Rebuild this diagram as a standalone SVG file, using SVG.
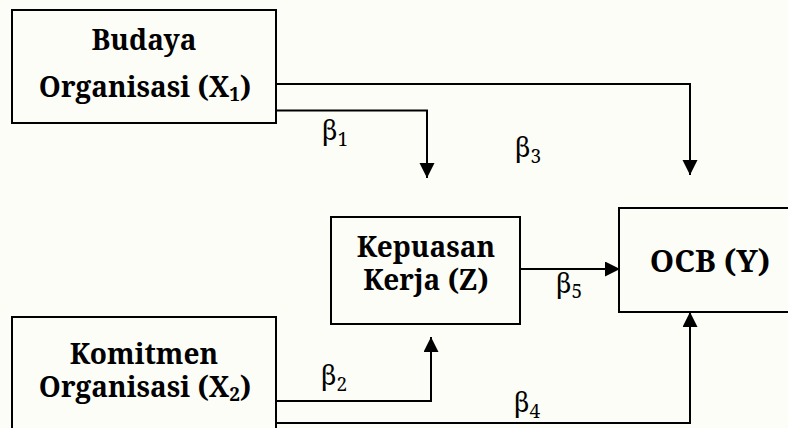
<svg xmlns="http://www.w3.org/2000/svg" width="788" height="428" viewBox="0 0 788 428">
  <defs>
    <marker id="arrow" markerUnits="userSpaceOnUse" markerWidth="16" markerHeight="16" refX="15" refY="7.5" orient="auto">
      <path d="M0,0 L15,7.5 L0,15 Z" fill="#000"/>
    </marker>
    <style>
      text { font-family: "Noto Serif", "DejaVu Serif", serif; fill: #000; }
      .box { fill: none; stroke: #000; stroke-width: 2; }
      .lbl { font-weight: bold; font-size: 28px; text-anchor: middle; }
      .sub { font-size: 19px; }
      .beta { font-size: 27px; }
      .conn { fill: none; stroke: #000; stroke-width: 2; marker-end: url(#arrow); }
    </style>
  </defs>
  <rect width="788" height="428" fill="#fcfdf7"/>

  <g id="budaya">
    <rect class="box" x="12" y="10" width="264" height="113"/>
    <text class="lbl" x="144" y="50">Budaya</text>
    <text class="lbl" x="145" y="97">Organisasi (X<tspan class="sub" dy="4">1</tspan><tspan dy="-4">)</tspan></text>
  </g>

  <g id="komitmen">
    <rect class="box" x="12" y="317" width="264" height="130"/>
    <text class="lbl" x="144" y="364">Komitmen</text>
    <text class="lbl" x="145" y="397">Organisasi (X<tspan class="sub" dy="4">2</tspan><tspan dy="-4">)</tspan></text>
  </g>

  <g id="kepuasan">
    <rect class="box" x="331" y="217" width="189" height="107"/>
    <text class="lbl" x="426" y="257">Kepuasan</text>
    <text class="lbl" x="426" y="290">Kerja (Z)</text>
  </g>

  <g id="ocb">
    <rect class="box" x="619" y="208" width="180" height="104"/>
    <text class="lbl" x="710" y="272" style="font-size:31px">OCB (Y)</text>
  </g>

  <g id="connectors">
    <polyline class="conn" points="276,84 690,84 690,175"/>
    <polyline class="conn" points="276,110.5 427,110.5 427,178"/>
    <line class="conn" x1="521" y1="269" x2="620" y2="269"/>
    <polyline class="conn" points="276,401 431,401 431,337"/>
    <polyline class="conn" points="276,423 690,423 690,312"/>
  </g>

  <g id="coefficients">
    <text class="beta" x="322" y="140">β<tspan class="sub" dy="6">1</tspan></text>
    <text class="beta" x="515" y="157">β<tspan class="sub" dy="6">3</tspan></text>
    <text class="beta" x="556" y="293">β<tspan class="sub" dy="5">5</tspan></text>
    <text class="beta" x="321" y="385">β<tspan class="sub" dy="6">2</tspan></text>
    <text class="beta" x="514" y="412">β<tspan class="sub" dy="6">4</tspan></text>
  </g>
</svg>
